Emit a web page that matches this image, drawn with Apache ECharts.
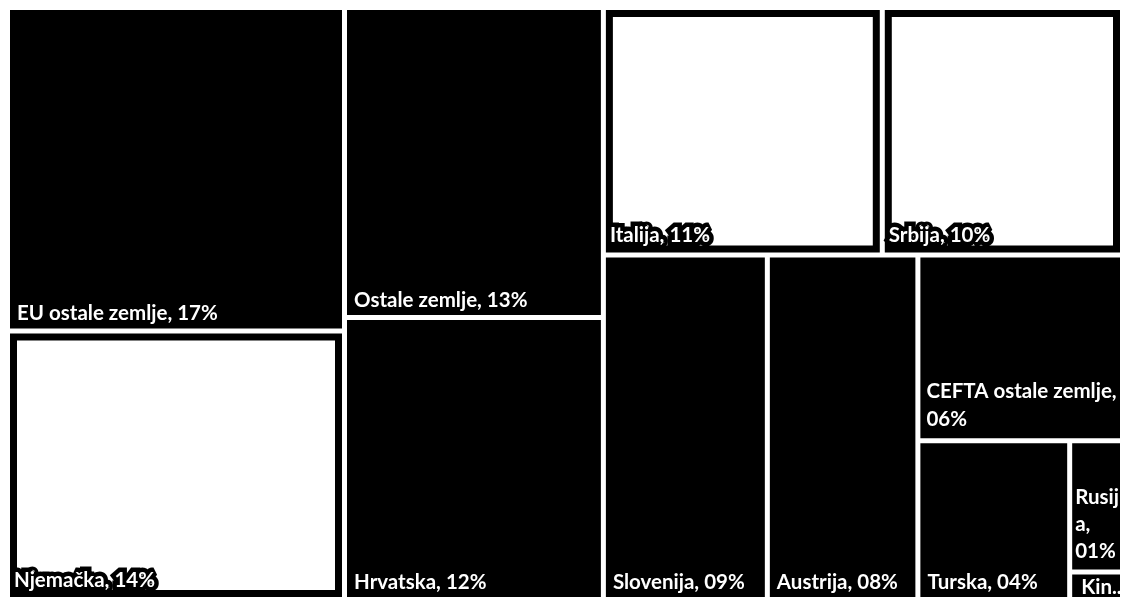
<!DOCTYPE html>
<html>
<head>
<meta charset="utf-8">
<script src="https://cdn.jsdelivr.net/npm/echarts@6/dist/echarts.min.js"></script>
<style>
html,body{margin:0;padding:0;background:#fff;}
#chart{width:1128px;height:597px;}
</style>
</head>
<body>
<div id="chart"></div>
<script>
// ---- data ----
const names = ['EU ostale zemlje', 'Njemačka', 'Ostale zemlje', 'Hrvatska', 'Italija', 'Srbija',
               'Slovenija', 'Austrija', 'CEFTA ostale zemlje', 'Turska', 'Rusija', 'Kina'];
// relative cell areas (share of total, %), estimated from the rectangles
const values = [16.5, 13.7, 12.15, 11.05, 10.45, 9.0, 8.55, 7.85, 5.75, 3.65, 1.05, 0.22];
// percentage texts printed in the labels
const pctLabels = ['17%', '14%', '13%', '12%', '11%', '10%', '09%', '08%', '06%', '04%', '01%', '00%'];

// ---- styling (kept apart from the data) ----
const whiteCells = ['Italija', 'Srbija', 'Njemačka'];
const wrapAfterComma = ['CEFTA ostale zemlje'];
const labelFont = 'Lato, "Open Sans", sans-serif';

function leaf(i) {
  const isWhite = whiteCells.indexOf(names[i]) >= 0;
  const node = {
    name: names[i],
    value: values[i],
    itemStyle: isWhite
      ? { color: '#ffffff', borderColor: '#000000', borderWidth: 7 }
      : { color: '#000000', borderColor: '#ffffff', borderWidth: 0 }
  };
  if (isWhite) node.label = { offset: [-5, 5], padding: [0, 2, 2, 2], textBorderColor: '#000000', textBorderWidth: 9 };
  if (names[i] === 'CEFTA ostale zemlje') node.label = { overflow: 'break', lineHeight: 28, padding: [0, 1, 5, 6] };
  if (names[i] === 'Rusija') node.label = { overflow: 'break', lineHeight: 27, padding: [0, 0, 5, 3] };
  if (names[i] === 'Kina') node.label = { overflow: 'truncate', ellipsis: '..', lineHeight: 20, padding: [0, 0, 0, 6], offset: [3, 0] };
  return node;
}
function group(children) {
  return { name: '', children: children, label: { show: false } };
}

// hierarchy reflecting how the cells are grouped in the picture
const treeData = [
  group([leaf(0), leaf(1)]),
  group([leaf(2), leaf(3)]),
  group([
    group([leaf(4), leaf(5)]),
    group([
      leaf(6),
      group([
        leaf(7),
        group([
          leaf(8),
          group([leaf(9), group([leaf(10), leaf(11)])])
        ])
      ])
    ])
  ])
];

const chart = echarts.init(document.getElementById('chart'), null, { renderer: 'canvas' });
chart.setOption({
  animation: false,
  backgroundColor: '#ffffff',
  series: [{
    type: 'treemap',
    left: 10, top: 10, right: 8, bottom: 0,
    sort: false,
    squareRatio: 1,
    roam: false,
    nodeClick: false,
    breadcrumb: { show: false },
    visibleMin: 0,
    itemStyle: { borderColor: '#ffffff', borderWidth: 0, gapWidth: 5 },
    label: {
      show: true,
      position: 'insideBottomLeft',
      color: '#ffffff',
      fontFamily: labelFont,
      fontSize: 20.5,
      fontWeight: 'bold',
      lineHeight: 26,
      padding: [0, 3, 2, 7],
      formatter: function (p) {
        const i = names.indexOf(p.name);
        if (i < 0) return '';
        const sep = wrapAfterComma.indexOf(names[i]) >= 0 ? ',\n' : ', ';
        return names[i] + sep + pctLabels[i];
      }
    },
    upperLabel: { show: false },
    emphasis: { disabled: true },
    data: treeData
  }]
});
</script>
</body>
</html>
